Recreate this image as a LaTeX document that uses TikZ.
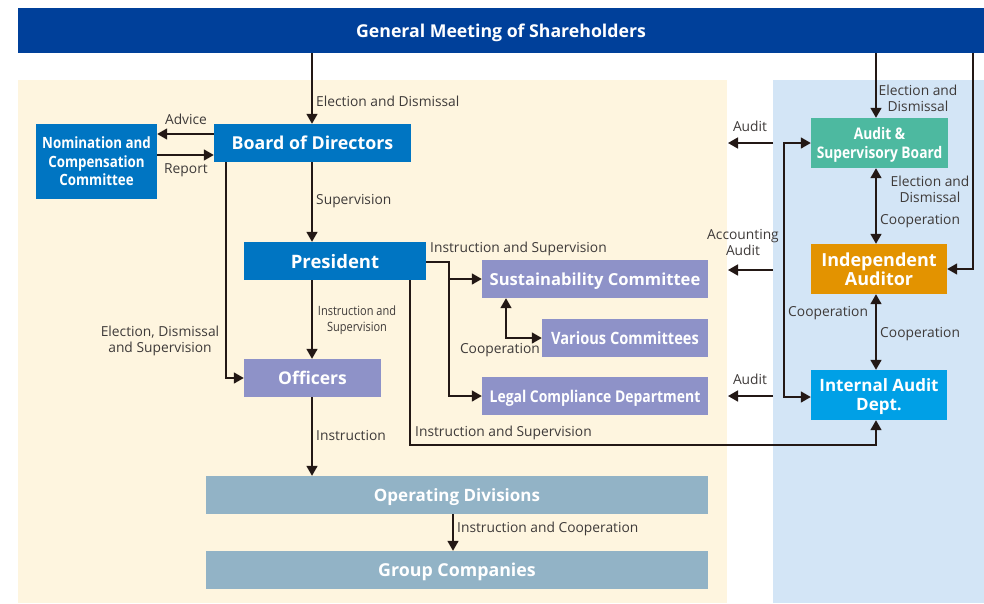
\documentclass[tikz,border=0pt]{standalone}
\usepackage{fontspec}
\setmainfont{Open Sans}
\newfontfamily\condfont[FakeStretch=0.86]{Open Sans}
\usetikzlibrary{arrows.meta,positioning,calc}

\definecolor{gmblue}{HTML}{00409A}
\definecolor{bodblue}{HTML}{0075C2}
\definecolor{lavender}{HTML}{8E92C8}
\definecolor{auditteal}{HTML}{4DB9A0}
\definecolor{audorange}{HTML}{E39300}
\definecolor{iadcyan}{HTML}{00A0E6}
\definecolor{slate}{HTML}{92B3C6}
\definecolor{cream}{HTML}{FEF5DF}
\definecolor{skyback}{HTML}{D3E5F6}
\definecolor{ink}{HTML}{231815}
\definecolor{labelgray}{HTML}{3E3A39}

\begin{document}
\begin{tikzpicture}[
        x=1pt, y=-1pt,
        unit/.style={rectangle, text=white, align=center, inner sep=0pt, minimum height=38pt, text depth=0pt, font=\bfseries\fontsize{17}{19}\selectfont},
        bigunit/.style={unit, font=\bfseries\fontsize{17.8}{19}\selectfont},
        condunit/.style={unit, font=\condfont\bfseries\fontsize{16.2}{18.5}\selectfont},
        lbl/.style={text=labelgray, inner sep=0pt, align=center, font=\fontsize{13.8}{16}\selectfont},
        smalllbl/.style={lbl, font=\condfont\fontsize{12.8}{16}\selectfont},
        arrow/.style={-{Triangle[length=10pt,width=11pt]}, line width=1.6pt, draw=ink},
        dblarrow/.style={{Triangle[length=10pt,width=11pt]}-{Triangle[length=10pt,width=11pt]}, line width=1.6pt, draw=ink}
    ]
    \useasboundingbox (0,0) rectangle (984,603);

    % Background panels
    \fill[cream] (18,80) rectangle (727,603);
    \fill[skyback] (773,80) rectangle (984,603);

    % Shareholders
    \node[unit, fill=gmblue, minimum width=966pt, minimum height=45pt, font=\bfseries\fontsize{17.7}{19}\selectfont] (gm) at (501,30.5) {General Meeting of Shareholders};

    % Board and committee
    \node[bigunit, fill=bodblue, minimum width=197pt] (board) at (312.5,143) {Board of Directors};
    \node[condunit, fill=bodblue, minimum width=121pt, minimum height=75pt, font=\condfont\bfseries\fontsize{15.5}{18.5}\selectfont] (ncc) at (96.5,161.5) {Nomination and\\Compensation\\Committee};

    % Executive side
    \node[bigunit, fill=bodblue, minimum width=182pt, font=\bfseries\fontsize{18.5}{19}\selectfont] (pres) at (335,261) {President};
    \node[unit, fill=lavender, minimum width=137pt, font=\bfseries\fontsize{17.5}{19}\selectfont] (officers) at (312.5,378) {Officers};
    \node[unit, fill=lavender, minimum width=226pt, font=\bfseries\fontsize{16.6}{19}\selectfont] (sust) at (595,279) {Sustainability Committee};
    \node[condunit, fill=lavender, minimum width=166pt, font=\condfont\bfseries\fontsize{17}{19}\selectfont] (various) at (625,338) {Various Committees};
    \node[condunit, fill=lavender, minimum width=226pt] (legal) at (595,396) {Legal Compliance Department};

    % Operations
    \node[unit, fill=slate, minimum width=502pt] (opdiv) at (457,495) {Operating Divisions};
    \node[unit, fill=slate, minimum width=502pt, font=\bfseries\fontsize{17.8}{19}\selectfont] (group) at (457,570) {Group Companies};

    % Audit side
    \node[condunit, fill=auditteal, minimum width=137pt, minimum height=50pt, font=\condfont\bfseries\fontsize{16}{19}\selectfont] (asb) at (879.5,143) {Audit \&\\Supervisory Board};
    \node[unit, fill=audorange, minimum width=136pt, minimum height=50pt, font=\bfseries\fontsize{18}{19}\selectfont] (indaud) at (879,269) {Independent\\Auditor};
    \node[unit, fill=iadcyan, minimum width=136pt, minimum height=50pt, font=\bfseries\fontsize{17}{19}\selectfont] (iad) at (879,395) {Internal Audit\\Dept.};

    % Free ends of the audit arrows
    \coordinate (aud1from) at (773,143);
    \coordinate (aud1to) at (728,143);
    \coordinate (aud2from) at (773,270);
    \coordinate (aud2to) at (728,270);
    \coordinate (aud3from) at (773,396);
    \coordinate (aud3to) at (728,396);

    % Connectors
    \draw[arrow] (312,0 |- gm.south) -- (312,0 |- board.north);
    \draw[arrow] (board.west |- 0,134) -- (ncc.east |- 0,134);
    \draw[arrow] (ncc.east |- 0,155) -- (board.west |- 0,155);
    \draw[arrow] (312,0 |- board.south) -- (312,0 |- pres.north);
    \draw[arrow] (226,0 |- board.south) -- (226,0 |- officers.west) -- (officers.west);
    \draw[arrow] (312,0 |- pres.south) -- (312,0 |- officers.north);
    \draw[arrow] (pres.east |- 0,262) -- (449,262) -- (449,0 |- legal.west) -- (legal.west);
    \draw[arrow] (449,0 |- sust.west) -- (sust.west);
    \draw[dblarrow] (506,0 |- sust.south) -- (506,0 |- various.west) -- (various.west);
    \draw[arrow] (410,0 |- pres.south) -- (410,445) -- (876,445) -- (876,0 |- iad.south);
    \draw[arrow] (312,0 |- officers.south) -- (312,0 |- opdiv.north);
    \draw[arrow] (453,0 |- opdiv.south) -- (453,0 |- group.north);

    \draw[arrow] (876,0 |- gm.south) -- (876,0 |- asb.north);
    \draw[arrow] (973,0 |- gm.south) -- (973,0 |- indaud.east) -- (indaud.east);
    \draw[dblarrow] (876,0 |- asb.south) -- (876,0 |- indaud.north);
    \draw[dblarrow] (876,0 |- indaud.south) -- (876,0 |- iad.north);
    \draw[dblarrow] (asb.west) -- (784,0 |- asb.west) -- (784,0 |- iad.west |- 0,397) -- (iad.west |- 0,397);
    \draw[arrow] (aud1from) -- (aud1to);
    \draw[arrow] (aud2from) -- (aud2to);
    \draw[arrow] (aud3from) -- (aud3to);

    % Labels
    \node[lbl, anchor=west] (lelect) at (316,101) {Election and Dismissal};
    \node[lbl] (ladvice) at (186,119) {Advice};
    \node[lbl] (lreport) at (186,170) {Report};
    \node[lbl, anchor=west] (lsuperv) at (316,201) {Supervision};
    \node[lbl] (lofficers) at (160,341) {Election, Dismissal\\and Supervision};
    \node[smalllbl] (lpresoff) at (357,320) {Instruction and\\Supervision};
    \node[lbl, anchor=west] (lpresins) at (430,249) {Instruction and Supervision};
    \node[lbl, anchor=east] (lcoop1) at (540,350) {Cooperation};
    \node[lbl, anchor=west] (lpresiad) at (415,433) {Instruction and Supervision};
    \node[lbl, anchor=west] (linstr) at (316,435) {Instruction};
    \node[lbl, anchor=west] (linscoop) at (457,529) {Instruction and Cooperation};
    \node[lbl] (lgmasb) at (918,98) {Election and\\Dismissal};
    \node[lbl] (lasbia) at (930,189) {Election and\\Dismissal};
    \node[lbl, anchor=west] (lcoop2) at (880,221) {Cooperation};
    \node[lbl, anchor=west] (lcoop3) at (880,334) {Cooperation};
    \node[lbl, anchor=west] (lcoop4) at (788,313) {Cooperation};
    \node[lbl] (laud1) at (750,126) {Audit};
    \node[lbl] (laud2) at (743,242) {Accounting\\Audit};
    \node[lbl] (laud3) at (750,379) {Audit};

\end{tikzpicture}
\end{document}
